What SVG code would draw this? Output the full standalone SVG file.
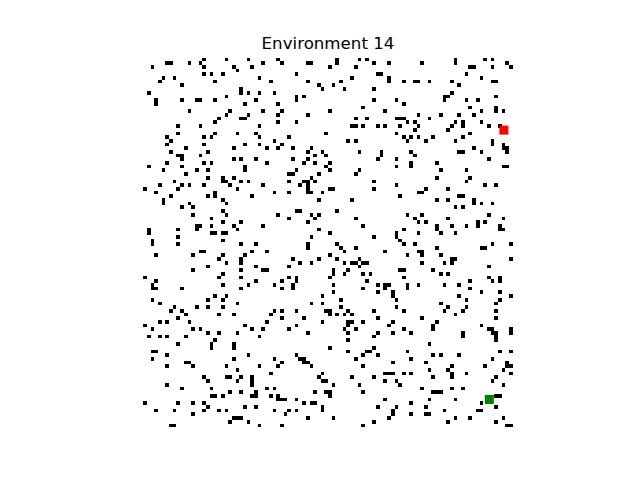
<svg xmlns="http://www.w3.org/2000/svg" width="640" height="480" viewBox="0 0 640 480">
<style>
.title{font-family:"DejaVu Sans",sans-serif;font-size:16.67px;fill:#000}
.obs{fill:#000}
</style>
<rect width="640" height="480" fill="#fff"/>
<text class="title" x="328" y="49.3" text-anchor="middle">Environment 14</text>
<g id="grid" transform="translate(143.2 57.6) scale(3.696)" shape-rendering="crispEdges">
<path class="obs" d="M16 0h1v1h-1zM22 0h1v1h-1zM28 0h1v1h-1zM6 1h2v1h-2zM12 1h1v1h-1zM15 1h1v1h-1zM32 1h1v1h-1zM2 2h1v1h-1zM16 2h1v1h-1zM24 2h1v1h-1zM29 2h1v1h-1zM25 3h1v1h-1zM16 4h1v1h-1zM18 4h1v1h-1zM21 4h1v1h-1zM5 5h1v1h-1zM8 5h1v1h-1zM31 5h1v1h-1zM4 6h1v1h-1zM19 6h1v1h-1zM10 7h1v1h-1zM26 8h1v1h-1zM1 9h1v1h-1zM26 9h1v1h-1zM28 9h1v1h-1zM31 9h1v1h-1zM22 10h1v1h-1zM3 11h1v1h-1zM10 11h1v1h-1zM14 11h2v1h-2zM19 11h1v1h-1zM30 11h1v1h-1zM3 12h1v1h-1zM27 12h1v1h-1zM12 14h1v1h-1zM23 14h1v1h-1zM32 14h1v1h-1zM22 15h1v1h-1zM28 15h1v1h-1zM20 16h1v1h-1zM26 16h2v1h-2zM19 17h1v1h-1zM9 18h1v1h-1zM15 18h1v1h-1zM31 18h1v1h-1zM9 20h1v1h-1zM19 20h1v1h-1zM25 20h1v1h-1zM30 20h1v1h-1zM6 21h1v1h-1zM16 21h1v1h-1zM18 21h1v1h-1zM31 21h1v1h-1zM7 22h1v1h-1zM6 23h1v1h-1zM16 23h1v1h-1zM27 23h1v1h-1zM31 23h1v1h-1zM11 24h1v1h-1zM24 24h1v1h-1zM33 24h1v1h-1zM7 25h1v1h-1zM17 25h1v1h-1zM9 26h2v1h-2zM15 26h1v1h-1zM10 27h1v1h-1zM24 27h1v1h-1zM26 27h1v1h-1zM30 27h1v1h-1zM6 28h1v1h-1zM16 28h1v1h-1zM18 28h1v1h-1zM33 28h1v1h-1zM1 29h1v1h-1zM10 29h1v1h-1zM27 29h1v1h-1zM5 30h1v1h-1zM14 30h1v1h-1zM17 30h1v1h-1zM27 30h1v1h-1zM11 31h1v1h-1zM17 32h1v1h-1zM21 32h1v1h-1zM24 32h1v1h-1zM8 33h1v1h-1zM21 33h2v1h-2zM26 33h1v1h-1zM28 33h1v1h-1z"/>
<path class="obs" d="M36 0h1v1h-1zM52 0h1v1h-1zM58 0h1v1h-1zM60 0h1v1h-1zM37 1h1v1h-1zM44 1h2v1h-2zM52 1h1v1h-1zM62 1h1v1h-1zM66 1h1v1h-1zM50 2h1v1h-1zM57 2h1v1h-1zM41 4h1v1h-1zM63 4h2v1h-2zM56 5h1v1h-1zM66 5h1v1h-1zM34 6h1v1h-1zM44 6h1v1h-1zM53 6h1v1h-1zM66 6h1v1h-1zM47 7h1v1h-1zM51 7h1v1h-1zM48 8h1v1h-1zM54 8h1v1h-1zM62 8h1v1h-1zM35 9h1v1h-1zM41 10h1v1h-1zM43 10h1v1h-1zM41 11h1v1h-1zM62 11h1v1h-1zM36 12h1v1h-1zM59 13h1v1h-1zM37 14h1v1h-1zM50 14h1v1h-1zM65 14h1v1h-1zM36 15h1v1h-1zM44 15h1v1h-1zM57 16h1v1h-1zM60 16h1v1h-1zM36 17h1v1h-1zM41 17h1v1h-1zM56 18h2v1h-2zM59 18h1v1h-1zM63 18h1v1h-1zM65 18h1v1h-1zM49 20h1v1h-1zM39 21h1v1h-1zM35 22h1v1h-1zM55 22h1v1h-1zM57 22h1v1h-1zM37 23h1v1h-1zM36 24h1v1h-1zM40 24h1v1h-1zM45 24h1v1h-1zM44 25h1v1h-1zM48 25h1v1h-1zM58 25h1v1h-1zM64 25h1v1h-1zM46 26h1v1h-1zM49 26h1v1h-1zM64 26h1v1h-1zM40 27h1v1h-1zM44 27h1v1h-1zM63 27h1v1h-1zM43 28h1v1h-1zM46 28h1v1h-1zM50 28h1v1h-1zM49 29h1v1h-1zM41 30h1v1h-1zM50 30h1v1h-1zM58 30h1v1h-1zM39 31h2v1h-2zM47 31h1v1h-1zM57 31h1v1h-1zM45 32h1v1h-1zM39 33h1v1h-1zM43 33h2v1h-2zM46 33h1v1h-1zM62 33h1v1h-1z"/>
<path class="obs" d="M84 0h1v1h-1zM92 0h1v1h-1zM94 0h1v1h-1zM75 1h1v1h-1zM84 1h1v1h-1zM98 1h1v1h-1zM88 2h2v1h-2zM94 2h1v1h-1zM99 2h1v1h-1zM87 4h1v1h-1zM91 5h1v1h-1zM70 6h1v1h-1zM73 6h2v1h-2zM77 6h1v1h-1zM83 6h1v1h-1zM94 6h2v1h-2zM85 7h1v1h-1zM83 9h1v1h-1zM81 10h2v1h-2zM95 10h1v1h-1zM68 11h1v1h-1zM81 11h1v1h-1zM87 11h1v1h-1zM90 11h1v1h-1zM70 12h1v1h-1zM88 13h1v1h-1zM95 13h1v1h-1zM91 14h1v1h-1zM95 14h1v1h-1zM97 14h1v1h-1zM74 15h1v1h-1zM80 15h1v1h-1zM85 15h1v1h-1zM89 15h1v1h-1zM68 16h3v1h-3zM77 16h1v1h-1zM71 17h1v1h-1zM73 17h1v1h-1zM84 17h1v1h-1zM86 17h1v1h-1zM91 17h1v1h-1zM69 18h1v1h-1zM74 18h1v1h-1zM83 18h1v1h-1zM86 18h1v1h-1zM93 18h1v1h-1zM96 18h1v1h-1zM73 19h1v1h-1zM82 19h1v1h-1zM68 20h1v1h-1zM88 20h1v1h-1zM70 21h1v1h-1zM72 21h1v1h-1zM74 21h1v1h-1zM78 21h1v1h-1zM86 21h1v1h-1zM71 22h1v1h-1zM76 22h1v1h-1zM84 22h1v1h-1zM94 22h1v1h-1zM94 23h1v1h-1zM97 23h1v1h-1zM89 24h1v1h-1zM97 24h2v1h-2zM72 25h1v1h-1zM85 25h2v1h-2zM91 25h1v1h-1zM98 25h1v1h-1zM73 26h1v1h-1zM68 27h1v1h-1zM93 27h1v1h-1zM72 28h1v1h-1zM79 28h1v1h-1zM68 29h1v1h-1zM72 29h1v1h-1zM97 29h2v1h-2zM80 30h1v1h-1zM87 30h1v1h-1zM79 32h1v1h-1zM88 32h1v1h-1zM87 33h1v1h-1z"/>
<path class="obs" d="M4 34h1v1h-1zM10 34h1v1h-1zM12 34h1v1h-1zM16 34h1v1h-1zM23 34h1v1h-1zM32 34h1v1h-1zM0 35h1v1h-1zM9 35h1v1h-1zM25 35h1v1h-1zM3 36h1v1h-1zM19 36h1v1h-1zM7 37h1v1h-1zM17 37h1v1h-1zM19 37h1v1h-1zM29 37h1v1h-1zM5 38h1v1h-1zM21 38h1v1h-1zM5 39h1v1h-1zM12 39h1v1h-1zM22 39h1v1h-1zM10 40h1v1h-1zM13 40h1v1h-1zM21 41h1v1h-1zM13 42h1v1h-1zM22 42h1v1h-1zM18 43h1v1h-1zM21 44h1v1h-1zM26 44h1v1h-1zM14 45h2v1h-2zM18 45h1v1h-1zM24 45h1v1h-1zM32 45h1v1h-1zM1 46h1v1h-1zM9 46h1v1h-1zM14 46h1v1h-1zM25 46h1v1h-1zM1 47h1v1h-1zM18 47h2v1h-2zM21 47h2v1h-2zM9 48h1v1h-1zM2 49h1v1h-1zM21 49h1v1h-1zM2 50h1v1h-1zM9 50h1v1h-1zM26 50h1v1h-1zM30 50h1v1h-1zM15 52h2v1h-2zM29 52h1v1h-1zM33 52h1v1h-1zM3 53h1v1h-1zM13 53h1v1h-1zM21 53h1v1h-1zM27 53h1v1h-1zM20 54h1v1h-1zM26 54h1v1h-1zM22 55h1v1h-1zM26 55h1v1h-1zM17 56h1v1h-1zM30 56h1v1h-1zM13 57h1v1h-1zM26 57h1v1h-1zM32 57h1v1h-1zM21 58h1v1h-1zM0 59h1v1h-1zM20 59h1v1h-1zM26 59h1v1h-1zM3 60h1v1h-1zM30 60h1v1h-1zM2 61h1v1h-1zM21 61h1v1h-1zM28 61h1v1h-1zM2 62h2v1h-2zM10 62h1v1h-1zM26 62h1v1h-1zM19 64h1v1h-1zM22 64h1v1h-1zM2 65h1v1h-1zM17 65h1v1h-1zM21 65h1v1h-1zM4 66h1v1h-1zM25 66h1v1h-1z"/>
<path class="obs" d="M39 33h1v1h-1zM43 33h2v1h-2zM46 33h1v1h-1zM42 34h1v1h-1zM44 34h1v1h-1zM44 35h1v1h-1zM50 35h2v1h-2zM62 35h1v1h-1zM35 36h1v1h-1zM39 36h1v1h-1zM44 36h2v1h-2zM48 36h1v1h-1zM47 38h1v1h-1zM56 38h1v1h-1zM41 41h2v1h-2zM52 41h1v1h-1zM36 42h1v1h-1zM45 42h1v1h-1zM47 42h1v1h-1zM39 43h1v1h-1zM46 43h1v1h-1zM57 43h1v1h-1zM44 44h1v1h-1zM59 45h1v1h-1zM47 46h1v1h-1zM50 47h1v1h-1zM45 48h1v1h-1zM62 48h1v1h-1zM44 50h1v1h-1zM52 50h1v1h-1zM44 51h1v1h-1zM53 51h1v1h-1zM57 51h1v1h-1zM54 52h1v1h-1zM65 52h1v1h-1zM50 53h1v1h-1zM40 54h1v1h-1zM47 54h1v1h-1zM52 54h1v1h-1zM58 54h1v1h-1zM42 55h1v1h-1zM45 55h1v1h-1zM54 55h1v1h-1zM56 55h2v1h-2zM59 55h2v1h-2zM39 56h1v1h-1zM58 56h1v1h-1zM33 57h1v1h-1zM51 57h1v1h-1zM55 57h1v1h-1zM51 58h1v1h-1zM54 58h1v1h-1zM59 58h1v1h-1zM61 58h1v1h-1zM39 59h1v1h-1zM41 59h1v1h-1zM50 59h1v1h-1zM37 60h1v1h-1zM41 60h1v1h-1zM60 60h1v1h-1zM35 61h1v1h-1zM40 61h1v1h-1zM51 61h1v1h-1zM63 61h1v1h-1zM65 61h2v1h-2zM37 62h1v1h-1zM40 62h1v1h-1zM59 62h1v1h-1zM65 62h1v1h-1zM51 63h1v1h-1zM63 63h1v1h-1zM48 64h1v1h-1zM53 65h1v1h-1zM45 66h1v1h-1zM48 66h1v1h-1z"/>
<path class="obs" d="M87 33h1v1h-1zM68 34h1v1h-1zM92 34h1v1h-1zM95 34h1v1h-1zM76 35h1v1h-1zM82 35h1v1h-1zM74 36h2v1h-2zM69 37h1v1h-1zM85 37h2v1h-2zM79 38h1v1h-1zM82 38h1v1h-1zM89 38h1v1h-1zM89 39h1v1h-1zM91 39h1v1h-1zM94 39h1v1h-1zM84 40h1v1h-1zM86 40h1v1h-1zM71 42h1v1h-1zM75 42h1v1h-1zM93 42h1v1h-1zM73 43h1v1h-1zM82 43h1v1h-1zM97 43h1v1h-1zM74 44h1v1h-1zM76 44h1v1h-1zM90 44h1v1h-1zM92 44h1v1h-1zM79 45h1v1h-1zM83 45h1v1h-1zM87 45h1v1h-1zM90 45h1v1h-1zM96 45h1v1h-1zM70 46h1v1h-1zM79 46h1v1h-1zM96 46h2v1h-2zM68 47h1v1h-1zM74 47h1v1h-1zM80 47h1v1h-1zM84 47h1v1h-1zM68 48h1v1h-1zM69 49h1v1h-1zM70 50h1v1h-1zM73 50h1v1h-1zM94 50h1v1h-1zM99 50h1v1h-1zM79 51h1v1h-1zM91 51h2v1h-2zM74 52h2v1h-2zM71 53h1v1h-1zM75 53h1v1h-1zM80 53h1v1h-1zM83 54h2v1h-2zM99 54h1v1h-1zM75 55h1v1h-1zM81 55h1v1h-1zM83 55h1v1h-1zM93 56h1v1h-1zM69 57h2v1h-2zM78 57h1v1h-1zM80 58h1v1h-1zM82 58h1v1h-1zM70 59h1v1h-1zM93 59h1v1h-1zM96 59h1v1h-1zM88 60h1v1h-1zM94 60h1v1h-1zM96 60h1v1h-1zM66 61h1v1h-1zM71 61h1v1h-1zM74 61h1v1h-1zM81 61h1v1h-1zM85 61h1v1h-1zM71 62h1v1h-1zM88 62h1v1h-1zM67 63h1v1h-1zM91 63h1v1h-1zM96 63h1v1h-1zM67 64h1v1h-1zM85 64h1v1h-1zM99 64h1v1h-1zM68 65h1v1h-1zM87 65h1v1h-1zM96 65h1v1h-1zM80 66h1v1h-1zM95 66h1v1h-1z"/>
<path class="obs" d="M8 67h1v1h-1zM14 67h1v1h-1zM17 67h1v1h-1zM21 67h1v1h-1zM7 68h1v1h-1zM10 68h1v1h-1zM11 69h1v1h-1zM20 69h1v1h-1zM24 69h1v1h-1zM9 70h1v1h-1zM4 71h1v1h-1zM6 71h1v1h-1zM12 71h1v1h-1zM33 71h1v1h-1zM0 72h1v1h-1zM27 72h1v1h-1zM2 73h1v1h-1zM13 73h1v1h-1zM15 73h1v1h-1zM29 73h1v1h-1zM32 73h1v1h-1zM17 74h1v1h-1zM20 74h1v1h-1zM25 74h1v1h-1zM1 75h1v1h-1zM4 75h1v1h-1zM6 75h1v1h-1zM11 75h1v1h-1zM31 75h1v1h-1zM19 76h1v1h-1zM9 77h1v1h-1zM18 77h1v2h-1zM24 77h1v2h-1zM2 79h2v1h-2zM6 80h1v1h-1zM28 80h1v1h-1zM2 81h1v1h-1zM24 81h1v1h-1zM11 82h2v1h-2zM13 83h1v1h-1zM6 83h1v1h-1zM22 83h1v1h-1zM31 83h1v1h-1zM25 84h1v1h-1zM16 86h1v1h-1zM17 87h1v1h-1zM22 86h2v1h-2zM26 86h1v1h-1zM29 86h1v3h-1zM25 87h1v1h-1zM6 88h1v1h-1zM10 89h1v1h-1zM18 89h1v1h-1zM33 89h1v1h-1zM23 90h1v1h-1zM26 90h1v1h-1zM30 90h1v2h-1zM29 91h1v1h-1zM18 91h2v1h-2zM21 91h1v1h-1zM0 93h1v1h-1zM9 93h1v1h-1zM13 93h1v1h-1zM16 93h1v1h-1zM17 94h1v1h-1zM27 94h1v1h-1zM30 94h1v1h-1zM3 95h1v1h-1zM8 95h1v1h-1zM16 95h1v1h-1zM20 95h1v1h-1zM22 95h1v1h-1zM13 96h1v1h-1zM24 97h3v1h-3zM23 98h1v1h-1zM28 98h1v1h-1zM7 99h2v1h-2zM31 99h1v1h-1z"/>
<path class="obs" d="M53 67h1v1h-1zM35 68h1v1h-1zM37 68h1v1h-1zM41 68h1v1h-1zM49 68h2v1h-2zM55 68h1v1h-1zM62 68h1v1h-1zM34 69h1v1h-1zM50 69h1v1h-1zM52 69h1v1h-1zM54 69h1v1h-1zM56 69h1v1h-1zM37 70h1v1h-1zM43 70h1v1h-1zM63 70h1v1h-1zM33 71h1v1h-1zM48 71h1v1h-1zM55 71h2v1h-2zM59 71h1v1h-1zM41 72h1v1h-1zM55 72h1v1h-1zM66 72h1v1h-1zM39 73h1v1h-1zM54 73h1v1h-1zM57 73h1v1h-1zM44 74h1v1h-1zM55 74h1v1h-1zM63 74h1v1h-1zM62 75h1v1h-1zM55 76h1v1h-1zM50 78h1v1h-1zM62 78h1v1h-1zM55 79h1v1h-1zM60 79h2v1h-2zM41 80h1v1h-1zM59 80h1v1h-1zM63 80h1v1h-1zM35 81h1v1h-1zM42 81h2v1h-2zM57 81h1v1h-1zM37 82h1v1h-1zM43 82h2v1h-2zM36 83h1v1h-1zM45 83h1v1h-1zM59 83h1v1h-1zM34 85h1v1h-1zM48 85h1v1h-1zM65 85h2v1h-2zM47 86h1v1h-1zM56 86h1v1h-1zM62 86h1v1h-1zM48 87h2v1h-2zM65 87h1v1h-1zM51 88h1v1h-1zM58 88h1v1h-1zM33 89h1v1h-1zM35 89h1v1h-1zM46 90h1v1h-1zM49 90h2v1h-2zM59 90h1v1h-1zM34 91h1v1h-1zM36 91h1v1h-1zM50 91h1v1h-1zM36 92h3v1h-3zM41 92h1v1h-1zM65 92h1v1h-1zM43 93h1v1h-1zM45 93h2v1h-2zM48 94h1v2h-1zM63 94h1v1h-1zM35 95h1v1h-1zM39 95h1v1h-1zM41 95h1v1h-1zM38 96h1v1h-1zM44 97h1v1h-1zM51 97h1v1h-1zM66 97h1v1h-1zM62 98h1v1h-1zM37 99h1v1h-1zM59 99h1v1h-1z"/>
<path class="obs" d="M68 67h1v1h-1zM82 67h1v1h-1zM87 67h1v1h-1zM70 68h1v1h-1zM81 68h1v1h-1zM86 68h1v1h-1zM95 68h1v1h-1zM84 69h1v1h-1zM75 70h1v1h-1zM95 70h1v1h-1zM67 71h1v1h-1zM79 71h1v1h-1zM66 72h1v1h-1zM78 72h1v2h-1zM91 72h1v1h-1zM70 73h1v1h-1zM93 73h2v1h-2zM99 73h1v2h-1zM67 74h1v1h-1zM72 74h1v1h-1zM94 74h2v1h-2zM86 74h1v2h-1zM95 75h1v2h-1zM77 77h1v1h-1zM71 79h1v1h-1zM96 79h1v1h-1zM99 79h1v1h-1zM78 80h1v1h-1zM80 80h1v1h-1zM85 80h1v1h-1zM72 81h1v1h-1zM94 81h1v1h-1zM67 82h1v1h-1zM76 82h1v1h-1zM98 82h1v2h-1zM99 83h1v1h-1zM83 83h1v1h-1zM92 83h1v1h-1zM77 84h1v1h-1zM82 84h1v1h-1zM97 84h1v1h-1zM66 85h2v1h-2zM70 85h1v1h-1zM72 85h1v1h-1zM83 85h1v2h-1zM87 85h1v1h-1zM99 85h1v1h-1zM78 86h1v1h-1zM95 86h1v1h-1zM68 87h1v1h-1zM69 88h1v1h-1zM94 87h1v1h-1zM97 88h1v1h-1zM75 89h1v1h-1zM83 89h1v1h-1zM86 89h1v1h-1zM78 90h3v1h-3zM95 91h2v1h-2zM77 92h1v1h-1zM84 92h1v1h-1zM72 93h1v1h-1zM91 93h1v1h-1zM68 94h1v1h-1zM67 95h1v2h-1zM76 94h1v1h-1zM95 94h1v1h-1zM90 95h2v1h-2zM81 95h1v1h-1zM76 96h2v1h-2zM72 96h1v1h-1zM66 97h1v1h-1zM84 97h1v1h-1zM88 97h1v1h-1zM97 97h1v1h-1zM82 98h1v1h-1zM95 98h1v1h-1zM98 99h2v1h-2z"/>
</g>
<g id="start">
<rect x="499.4" y="125.6" width="9" height="9" fill="#ff0000"/>
</g>
<g id="goal">
<rect x="484.8" y="395" width="9" height="9" fill="#008000"/>
</g>
</svg>
